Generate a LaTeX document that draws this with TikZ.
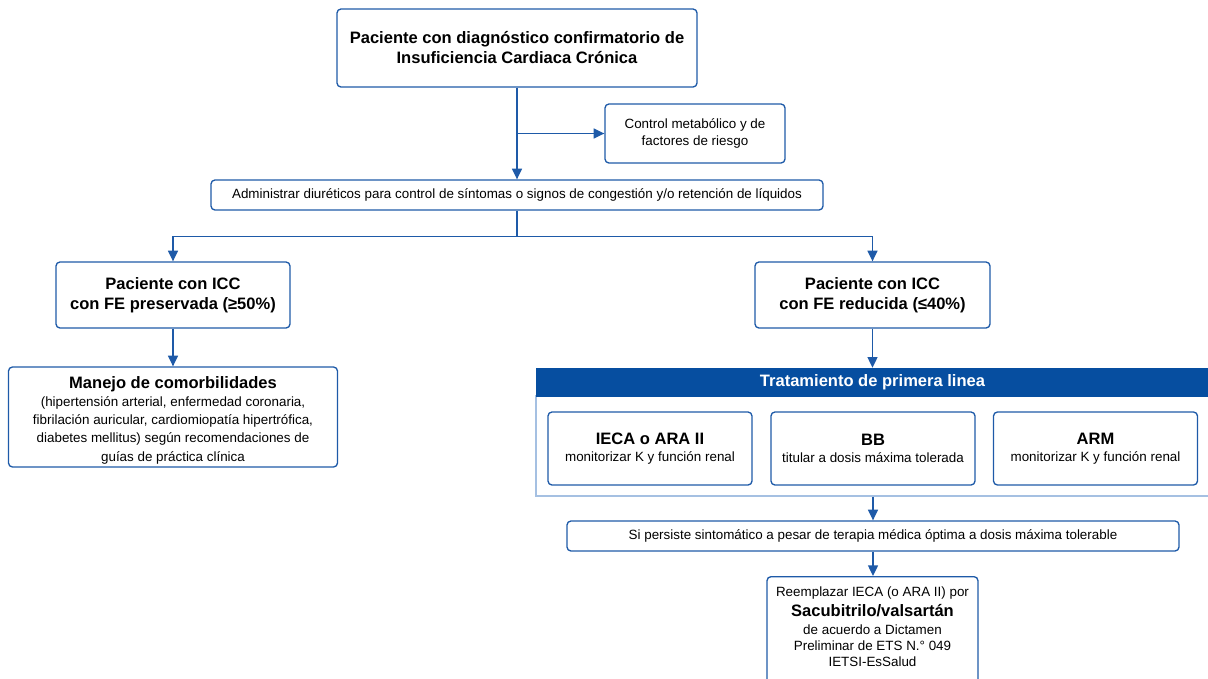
\documentclass[tikz,border=0pt]{standalone}
\usepackage{fontspec}
\setmainfont{Liberation Sans}
\usetikzlibrary{arrows.meta}
\definecolor{bcol}{RGB}{30,90,168}
\definecolor{hcol}{RGB}{6,78,160}
\definecolor{fcol}{RGB}{165,192,226}
\newcommand{\bigf}{\fontsize{12.4pt}{15pt}\selectfont\bfseries}
\newcommand{\smf}{\fontsize{10.05pt}{12.75pt}\selectfont}
\tikzset{
  box/.style={draw=bcol, line width=1pt, rounded corners=3pt, align=center, inner sep=2pt},
  arr/.style={draw=bcol, line width=1pt, -{Triangle[length=8pt,width=7.5pt]}},
  lin/.style={draw=bcol, line width=1pt},
}
\begin{document}
\begin{tikzpicture}[x=0.75pt,y=-0.75pt]
\useasboundingbox (0,0) rectangle (1208,679);
\clip (0,0) rectangle (1208,679);
\node[box, font=\bigf, minimum width=270pt, minimum height=58.5pt] (top) at (517,48)
  {Paciente con diagnóstico confirmatorio de\\Insuficiencia Cardiaca Crónica};
\node[box, font=\smf, minimum width=135pt, minimum height=44.25pt] (ctrl) at (695,133.5)
  {Control metabólico y de\\factores de riesgo};
\node[box, font=\smf, minimum width=459pt, minimum height=22.5pt] (diur) at (517,195)
  {Administrar diuréticos para control de síntomas o signos de congestión y/o retención de líquidos};
\node[box, font=\bigf, minimum width=175.5pt, minimum height=49.5pt] (iccl) at (173,295)
  {Paciente con ICC\\con FE preservada (≥50\%)};
\node[box, font=\bigf, minimum width=176.25pt, minimum height=49.5pt] (iccr) at (872.5,295)
  {Paciente con ICC\\con FE reducida (≤40\%)};
\node[box, font=\fontsize{10.05pt}{13.7pt}\selectfont, minimum width=246.75pt, minimum height=75pt] (man) at (173,417)
  {\rule{0pt}{13.6pt}{\bigf Manejo de comorbilidades}\\
   (hipertensión arterial, enfermedad coronaria,\\fibrilación auricular, cardiomiopatía hipertrófica,\\diabetes mellitus) según recomendaciones de\\guías de práctica clínica};
\node[draw=fcol, line width=0.8pt, minimum width=507pt, minimum height=75pt, inner sep=0pt] (frame) at (874,446) {};
\node[fill=hcol, draw=hcol, font=\bigf, minimum width=505pt, minimum height=21pt, inner sep=0pt, text=white] (head) at (872.5,382)
  {Tratamiento de primera linea};
\node[box, font=\smf, minimum width=153pt, minimum height=54.75pt] (ieca) at (650,448.5)
  {{\bigf IECA o ARA II}\\monitorizar K y función renal};
\node[box, font=\smf, minimum width=153pt, minimum height=54.75pt] (bb) at (873,448.5)
  {{\bigf BB}\\titular a dosis máxima tolerada};
\node[box, font=\smf, minimum width=153pt, minimum height=54.75pt] (arm) at (1095.5,448.5)
  {{\bigf ARM}\\monitorizar K y función renal};
\node[box, font=\smf, minimum width=459pt, minimum height=22.5pt] (pers) at (873,536)
  {Si persiste sintomático a pesar de terapia médica óptima a dosis máxima tolerable};
\node[box, font=\fontsize{10.05pt}{12pt}\selectfont, minimum width=158.25pt, anchor=north, inner ysep=7.25pt] (rem) at (872.5,576)
  {Reemplazar IECA (o ARA II) por\\[3pt]
   {\bigf Sacubitrilo/valsartán}\\[2pt]
   de acuerdo a Dictamen\\Preliminar de ETS N.° 049\\IETSI-EsSalud\\\rule{0pt}{24pt}};
% connectors
\draw[arr] (top.south) -- (diur.north);
\coordinate (b1) at (top.south |- ctrl.west);
\draw[arr] (b1) -- (ctrl.west);
\coordinate (j) at ([yshift=-19.5pt]diur.south);
\draw[lin] (diur.south) -- (j);
\draw[arr] (j) -| (iccl.north);
\draw[arr] (j) -| (iccr.north);
\draw[arr] (iccl.south) -- (man.north);
\draw[arr] (iccr.south) -- (head.north -| iccr.south);
\draw[arr] (frame.south -| pers.north) -- (pers.north);
\draw[arr] (pers.south) -- (pers.south |- rem.north);
\end{tikzpicture}
\end{document}
